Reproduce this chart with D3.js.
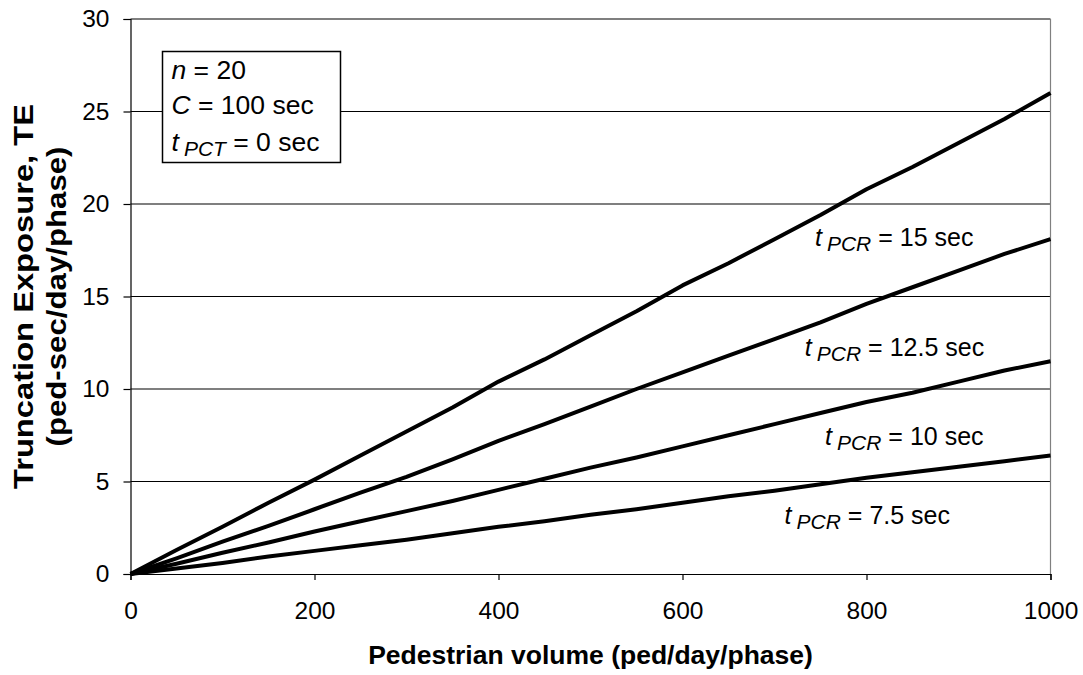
<!DOCTYPE html>
<html><head><meta charset="utf-8">
<script src="https://cdn.jsdelivr.net/npm/d3@7"></script>
<style>
body{margin:0;background:#fff;}
text{font-family:"Liberation Sans",Arial,sans-serif;fill:#000;}
</style></head>
<body>
<svg id="c" width="1083" height="675"></svg>
<script>
const volumes = [0,50,100,150,200,250,300,350,400,450,500,550,600,650,700,750,800,850,900,950,1000];
const te15  = [0,1.3,2.55,3.85,5.1,6.4,7.7,9.0,10.4,11.6,12.9,14.2,15.6,16.8,18.1,19.4,20.8,22.0,23.3,24.6,26.0];
const te125 = [0,0.85,1.75,2.6,3.5,4.4,5.25,6.2,7.2,8.1,9.05,10.0,10.9,11.8,12.7,13.6,14.6,15.5,16.4,17.3,18.1];
const te10  = [0,0.55,1.15,1.7,2.3,2.85,3.4,3.95,4.55,5.15,5.75,6.3,6.9,7.5,8.1,8.7,9.3,9.8,10.4,11.0,11.5];
const te75  = [0,0.3,0.6,0.95,1.25,1.55,1.85,2.2,2.55,2.85,3.2,3.5,3.85,4.2,4.5,4.85,5.2,5.5,5.8,6.1,6.4];
const seriesNames = ["15","12.5","10","7.5"];
const xTicks = [0,200,400,600,800,1000];
const yTicks = [0,5,10,15,20,25,30];
const labelAnchors = [[744,17.75],[733,11.76],[755,6.95],[711,2.72]]; // [volume, TE] where series labels sit

const svg = d3.select("#c");
const L=130.5,R=1050.5,T=19,B=574;
const x = d3.scaleLinear().domain([0,1000]).range([L,R]);
const y = d3.scaleLinear().domain([0,30]).range([B,T]);

// gridlines
svg.append("g").selectAll("line").data(yTicks.filter(d=>d>0)).join("line")
  .attr("x1",L).attr("x2",R).attr("y1",d=>y(d)).attr("y2",d=>y(d))
  .attr("stroke","#000").attr("stroke-width",1.2);
// right border
svg.append("line").attr("x1",R).attr("x2",R).attr("y1",T).attr("y2",B).attr("stroke","#808080").attr("stroke-width",1.2);

// axes
const xAxis = svg.append("g").attr("transform",`translate(0,${B})`)
  .call(d3.axisBottom(x).tickValues(xTicks).tickSize(6).tickPadding(22).tickFormat(d3.format("d")));
const yAxis = svg.append("g").attr("transform",`translate(${L},0)`)
  .call(d3.axisLeft(y).tickValues(yTicks).tickSize(7).tickPadding(14));
[xAxis,yAxis].forEach(a=>{
  a.select(".domain").attr("stroke","#000").attr("stroke-width",1.2);
  a.selectAll(".tick line").attr("stroke","#000").attr("stroke-width",1.2);
  a.selectAll("text").attr("font-size",24.5).attr("font-family","Liberation Sans, Arial, sans-serif").attr("fill","#000");
});

// series lines
const allSeries = [te15,te125,te10,te75];
const line = d3.line().x((d,i)=>x(volumes[i])).y(d=>y(d));
svg.append("g").selectAll("path").data(allSeries).join("path")
  .attr("d",line).attr("fill","none").attr("stroke","#000").attr("stroke-width",4).attr("stroke-linejoin","round");

// series labels
function tLabel(g, px, py, sub, rest, fs, sfs){
  const t = g.append("text").attr("x",px).attr("y",py).attr("font-size",fs);
  t.append("tspan").attr("font-style","italic").text("t");
  t.append("tspan").attr("font-style","italic").attr("font-size",sfs).attr("dx",5).attr("dy",5).text(sub);
  t.append("tspan").attr("dy",-5).text(" = "+rest);
  return t;
}
const lg = svg.append("g");
seriesNames.forEach((s,i)=>{
  tLabel(lg, x(labelAnchors[i][0]), y(labelAnchors[i][1]), "PCR", s+" sec", 25, 21);
});

// info box
svg.append("rect").attr("x",162.5).attr("y",51.5).attr("width",178).attr("height",111)
  .attr("fill","#fff").attr("stroke","#000").attr("stroke-width",1.5);
const b1 = svg.append("text").attr("x",171.5).attr("y",79).attr("font-size",26.5);
b1.append("tspan").attr("font-style","italic").text("n");
b1.append("tspan").text(" = 20");
const b2 = svg.append("text").attr("x",171.5).attr("y",113.5).attr("font-size",26.5);
b2.append("tspan").attr("font-style","italic").text("C");
b2.append("tspan").text(" = 100 sec");
tLabel(svg, 171.5, 150.5, "PCT", "0 sec", 26.5, 21);

// axis titles
svg.append("text").attr("x",(L+R)/2).attr("y",663.5).attr("text-anchor","middle")
  .attr("font-size",26.5).attr("font-weight","bold").text("Pedestrian volume (ped/day/phase)");
const yt = svg.append("text").attr("transform",`translate(0,${(T+B)/2}) rotate(-90)`)
  .attr("text-anchor","middle").attr("font-size",27).attr("font-weight","bold");
yt.append("tspan").attr("x",0).attr("y",33).attr("textLength",385).attr("lengthAdjust","spacingAndGlyphs").text("Truncation Exposure, TE");
yt.append("tspan").attr("x",0).attr("y",66).attr("textLength",300).attr("lengthAdjust","spacingAndGlyphs").text("(ped-sec/day/phase)");
</script>
</body></html>
